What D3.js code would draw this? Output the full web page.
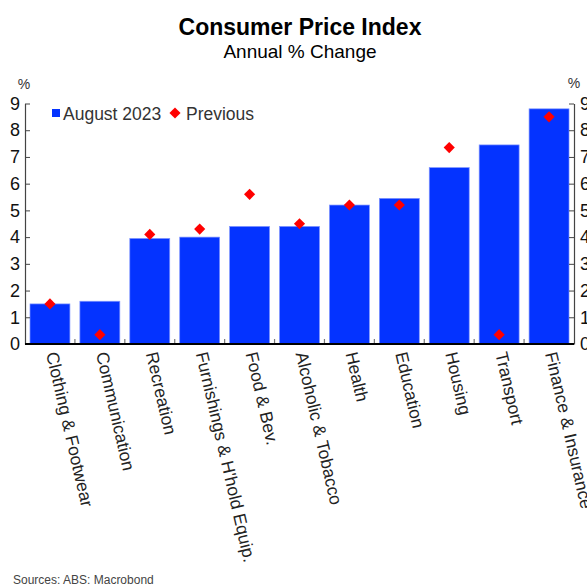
<!DOCTYPE html>
<html>
<head>
<meta charset="utf-8">
<script src="https://cdn.jsdelivr.net/npm/d3@7"></script>
<style>
  html, body { margin: 0; padding: 0; background: #fff; }
  svg { display: block; font-family: "Liberation Sans", Arial, sans-serif; }
</style>
</head>
<body>
<svg id="chart" width="587" height="587"></svg>
<script>
const categories = ["Clothing & Footwear", "Communication", "Recreation", "Furnishings & H'hold Equip.", "Food & Bev.", "Alcoholic & Tobacco", "Health", "Education", "Housing", "Transport", "Finance & Insurance"];
const august2023 = [1.5, 1.6, 3.95, 4.0, 4.4, 4.4, 5.2, 5.45, 6.6, 7.45, 8.8];
const previous = [1.5, 0.35, 4.1, 4.3, 5.6, 4.5, 5.2, 5.2, 7.35, 0.35, 8.5];
const yTicks = [0, 1, 2, 3, 4, 5, 6, 7, 8, 9];
const seriesNames = ["August 2023", "Previous"];

(function () {
const svg = d3.select("#chart");
const pLeft = 25, pRight = 574, pTop = 103.5, pBottom = 344;
const barColor = "#0433ff", dotColor = "#ff0000";

const x = d3.scaleBand().domain(categories).range([pLeft, pRight]).paddingInner(0.2).paddingOuter(0.1);
const y = d3.scaleLinear().domain([0, 9]).range([pBottom, pTop]);

// Title
svg.append("text").attr("x", 300).attr("y", 35).attr("text-anchor", "middle")
  .attr("font-size", 23).attr("font-weight", "bold").attr("fill", "#000").text("Consumer Price Index");
svg.append("text").attr("x", 300).attr("y", 58).attr("text-anchor", "middle")
  .attr("font-size", 19).attr("fill", "#000").text("Annual % Change");

// unit labels
svg.append("text").attr("x", 24).attr("y", 89).attr("text-anchor", "middle").attr("font-size", 14).attr("fill", "#333").text("%");
svg.append("text").attr("x", 574).attr("y", 88).attr("text-anchor", "middle").attr("font-size", 14).attr("fill", "#333").text("%");

// Bars
svg.append("g").selectAll("rect").data(categories).join("rect")
  .attr("x", d => x(d))
  .attr("width", x.bandwidth())
  .attr("y", (d, i) => y(august2023[i]))
  .attr("height", (d, i) => y(0) - y(august2023[i]))
  .attr("fill", barColor)
  .attr("stroke", "#7f95ff").attr("stroke-width", 0.7);

// Left axis
const gl = svg.append("g").attr("transform", `translate(${pLeft},0)`)
  .call(d3.axisLeft(y).tickValues(yTicks).tickSize(-5).tickSizeOuter(0).tickPadding(5));
gl.select(".domain").attr("stroke", "#444").attr("stroke-width", 1.2);
gl.selectAll(".tick line").attr("stroke", "#444");
gl.selectAll(".tick text").attr("font-size", 18).attr("fill", "#111").attr("font-family", "Liberation Sans, Arial, sans-serif");

// Right axis
const gr = svg.append("g").attr("transform", `translate(${pRight},0)`)
  .call(d3.axisRight(y).tickValues(yTicks).tickSize(-5).tickSizeOuter(0).tickPadding(6));
gr.select(".domain").attr("stroke", "#444").attr("stroke-width", 1.2);
gr.selectAll(".tick line").attr("stroke", "#444");
gr.selectAll(".tick text").attr("font-size", 18).attr("fill", "#111").attr("font-family", "Liberation Sans, Arial, sans-serif");

// Bottom separator ticks (at band boundaries)
const gap = (x.step() - x.bandwidth()) / 2;
svg.append("g").selectAll("line").data(categories.slice(1)).join("line")
  .attr("x1", d => x(d) - gap).attr("x2", d => x(d) - gap)
  .attr("y1", pBottom).attr("y2", pBottom - 5)
  .attr("stroke", "#777").attr("stroke-width", 1.2);

// Bottom axis line
svg.append("line").attr("x1", pLeft).attr("x2", pRight).attr("y1", pBottom).attr("y2", pBottom)
  .attr("stroke", "#000").attr("stroke-width", 2);

// Category labels
svg.append("g").selectAll("text").data(categories).join("text")
  .attr("transform", d => `translate(${x(d) + x.bandwidth() / 2 + 2},${pBottom + 8}) rotate(77)`)
  .attr("dy", "0.35em")
  .attr("font-size", 17.5).attr("fill", "#222")
  .text(d => d);

// Previous diamonds
const diamond = d3.symbol().type(d3.symbolSquare).size(62);
svg.append("g").selectAll("path").data(categories).join("path")
  .attr("d", diamond)
  .attr("transform", (d, i) => `translate(${x(d) + x.bandwidth() / 2},${y(previous[i])}) rotate(45)`)
  .attr("fill", dotColor);

// Legend
const lg = svg.append("g");
lg.append("rect").attr("x", 52).attr("y", 109).attr("width", 8).attr("height", 8).attr("fill", barColor);
lg.append("text").attr("x", 63).attr("y", 119.5).attr("font-size", 17.5).attr("fill", "#333").text(seriesNames[0]);
lg.append("path").attr("d", diamond).attr("transform", "translate(175,113) rotate(45)").attr("fill", dotColor);
lg.append("text").attr("x", 186).attr("y", 119.5).attr("font-size", 17.5).attr("fill", "#333").text(seriesNames[1]);

// Source
svg.append("text").attr("x", 13).attr("y", 584).attr("font-size", 12).attr("fill", "#444").text("Sources: ABS: Macrobond");
})();
</script>
</body>
</html>
